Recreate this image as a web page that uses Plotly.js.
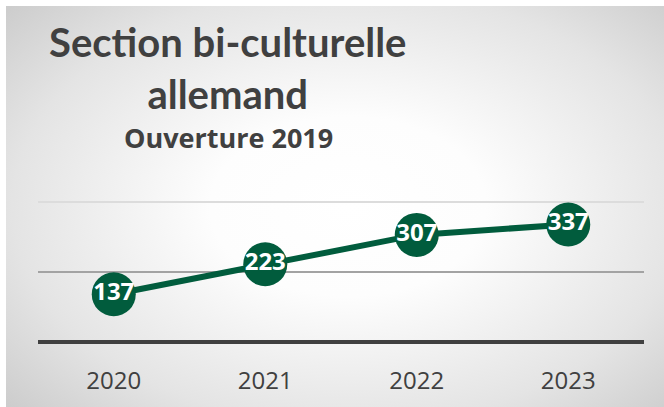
<!DOCTYPE html>
<html>
<head>
<meta charset="utf-8">
<script src="https://cdn.plot.ly/plotly-3.0.1.min.js"></script>
<style>
  html, body { margin: 0; padding: 0; background: #ffffff; }
  #panel { position: absolute; left: 6px; top: 6px; width: 658px; height: 401px;
    background: radial-gradient(ellipse 75% 80% at 52% 50%, #ffffff 0%, #fdfdfd 28%, #e4e4e4 68%, #c6c6c6 100%); }
  #chart { position: absolute; left: 0; top: 0; width: 664px; height: 407px; }
</style>
</head>
<body>
<div id="panel"></div>
<div id="chart"></div>
<script>
const years = ['2020', '2021', '2022', '2023'];
const students = [137, 223, 307, 337];
const titleText = 'Section bi-culturelle<br>allemand';
const subtitleText = 'Ouverture 2019';

const green = '#015c3d';

const trace = {
  x: years,
  y: students,
  text: students.map(String),
  type: 'scatter',
  mode: 'lines+markers+text',
  line: { color: green, width: 6 },
  marker: { color: green, size: 44 },
  textposition: 'middle center',
  textfont: { family: '"Open Sans", sans-serif', size: 24, color: '#ffffff', weight: 'bold' },
  hoverinfo: 'skip',
  cliponaxis: false
};

const layout = {
  width: 664, height: 407,
  paper_bgcolor: 'rgba(0,0,0,0)',
  plot_bgcolor: 'rgba(0,0,0,0)',
  showlegend: false,
  margin: { l: 38, r: 20, t: 199, b: 65 },
  title: {
    text: titleText,
    font: { family: 'Lato, sans-serif', size: 40, color: '#404040', weight: 'bold' },
    xref: 'container', x: 0.343, xanchor: 'center',
    yref: 'container', y: 0.86, yanchor: 'top'
  },
  annotations: [{
    text: subtitleText, xref: 'paper', yref: 'paper',
    x: (228 - 38) / 606, y: (342 - 137) / 143, xanchor: 'center', yanchor: 'middle',
    showarrow: false,
    font: { family: '"Open Sans", sans-serif', size: 27, color: '#404040', weight: 'bold' }
  }],
  xaxis: {
    type: 'category', range: [-0.5, 3.5],
    showgrid: false, zeroline: false, showline: false,
    ticks: '', ticklen: 0, ticklabelstandoff: 22,
    tickfont: { family: '"Open Sans", sans-serif', size: 24, color: '#404040' },
    fixedrange: true
  },
  yaxis: {
    range: [0, 410], tickvals: [200], showticklabels: false,
    showgrid: true, gridcolor: '#a3a3a3', gridwidth: 2,
    minor: { tickvals: [400], showgrid: true, gridcolor: '#dcdcdc', gridwidth: 2, ticks: '' },
    zeroline: true, zerolinecolor: '#404040', zerolinewidth: 4,
    showline: false, fixedrange: true
  }
};

Plotly.newPlot('chart', [trace], layout, { displayModeBar: false, staticPlot: true });
</script>
</body>
</html>
